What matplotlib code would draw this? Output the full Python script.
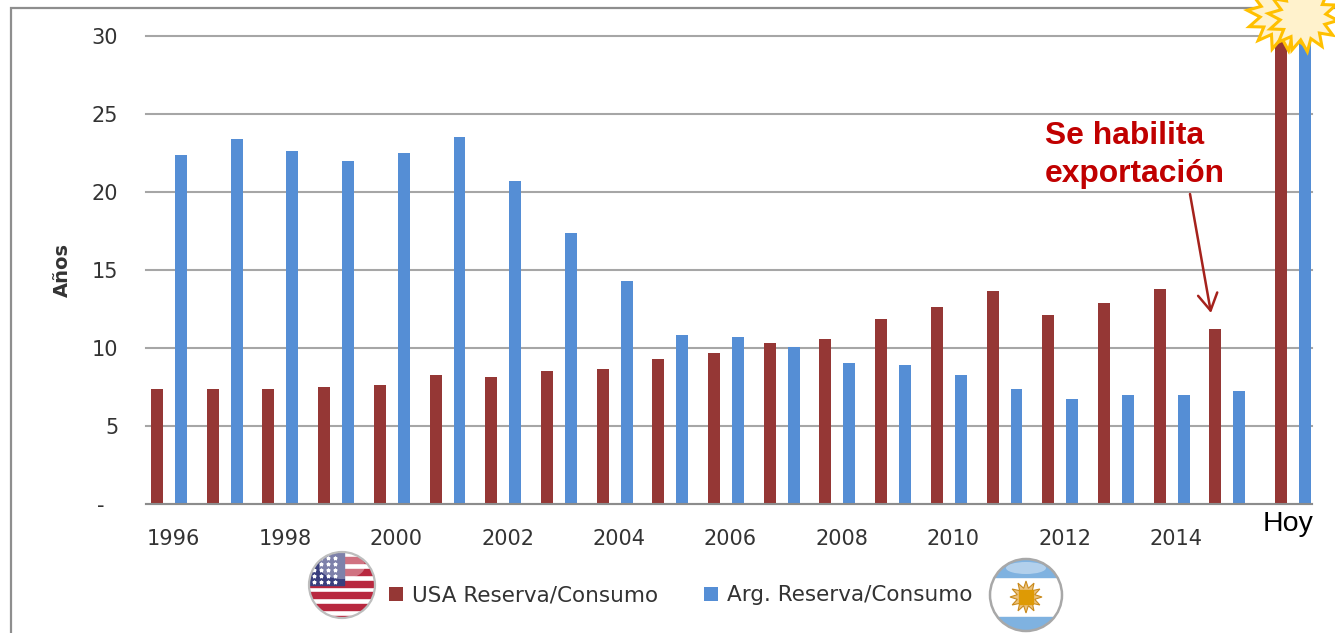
import matplotlib
matplotlib.use("Agg")
import matplotlib.pyplot as plt
import numpy as np
from matplotlib.patches import Circle, Ellipse, Polygon, Rectangle

years = [1996, 1997, 1998, 1999, 2000, 2001, 2002, 2003, 2004, 2005,
         2006, 2007, 2008, 2009, 2010, 2011, 2012, 2013, 2014, 2015]
usa = [7.4, 7.4, 7.4, 7.5, 7.6, 8.3, 8.15, 8.5, 8.65, 9.3,
       9.7, 10.3, 10.6, 11.85, 12.6, 13.65, 12.1, 12.9, 13.8, 11.2]
arg = [22.4, 23.4, 22.6, 22.0, 22.5, 23.5, 20.7, 17.4, 14.3, 10.85,
       10.7, 10.05, 9.05, 8.9, 8.3, 7.4, 6.75, 7.0, 7.0, 7.25]
usa_hoy = 30
arg_hoy = 30
y_ticks = [0, 5, 10, 15, 20, 25, 30]
y_labels = ["-  ", "5", "10", "15", "20", "25", "30"]

usa_color = "#953735"
arg_color = "#558ED5"
text_color = "#333333"
red = "#C00000"
W, H = 1335, 633

fig = plt.figure(figsize=(W / 100, H / 100), dpi=100, facecolor="white")
ax = fig.add_axes([146 / W, 1 - 504 / H, (1312 - 146) / W, (504 - 36) / H])

x = np.arange(len(years))
x_hoy = 20.18
bar_w = 0.215
off = 0.215
ax.bar(x - off, usa, bar_w, color=usa_color, label="USA Reserva/Consumo")
ax.bar(x + off, arg, bar_w, color=arg_color, label="Arg. Reserva/Consumo")
ax.bar(x_hoy - off, usa_hoy, bar_w, color=usa_color)
ax.bar(x_hoy + off, arg_hoy, bar_w, color=arg_color)

ax.set_xlim(-0.413, 20.52)
ax.set_ylim(0, 30)
ax.set_yticks(y_ticks)
ax.set_yticklabels(y_labels, fontsize=15, color=text_color)
ax.set_xticks(x[::2] + 0.08)
ax.set_xticklabels(years[::2], fontsize=15, color=text_color)
ax.tick_params(length=0)
ax.tick_params(axis="y", pad=20)
ax.tick_params(axis="x", pad=18)
ax.grid(axis="y", color="#A6A6A6", linewidth=1.5, clip_on=False)
ax.set_axisbelow(True)
for s in ["top", "right", "left"]:
    ax.spines[s].set_visible(False)
ax.spines["bottom"].set_color("#8C8C8C")
ax.spines["bottom"].set_linewidth(1.5)

ax.text(-1.92, 15, "Años", rotation=90, ha="center", va="center",
        fontsize=14, fontweight="bold", color=text_color)
ax.text(x_hoy - 0.09, -1.3, "Hoy", ha="center", va="center", fontsize=20.5,
        family="Liberation Sans", color="black")

ax.legend(loc="center left", bbox_to_anchor=(0.2086, -0.195), ncol=2, frameon=False,
          fontsize=15.5, labelcolor=text_color, handlelength=0.65, handleheight=0.65,
          handletextpad=0.42, columnspacing=2.1, borderpad=0, borderaxespad=0)

ax.text(15.73, 22.4, "Se habilita\nexportación", ha="left", va="center",
        fontsize=22.9, fontweight="bold", family="Liberation Sans", color=red,
        linespacing=1.35)
ax.annotate("", xy=(1211, H - 313), xycoords="figure pixels",
            xytext=(1190, H - 194), textcoords="figure pixels",
            arrowprops=dict(arrowstyle="->,head_length=1.2,head_width=0.7",
                            color="#A5221C", linewidth=1.8, shrinkA=0, shrinkB=0))

# overlay in pixel coords for frame, flags and stars
deco = fig.add_axes([0, 0, 1, 1], zorder=5)
deco.set_xlim(0, W)
deco.set_ylim(H, 0)
deco.axis("off")
deco.plot([11, 11, W], [H, 8, 8], color="#8E8E8E", linewidth=1.6, solid_joinstyle="miter")


def burst(cx, cy, r_out, r_in, n, zorder):
    a = np.linspace(0, 2 * np.pi, 2 * n, endpoint=False) + 0.1
    r = np.where(np.arange(2 * n) % 2 == 0, r_out, r_in)
    pts = np.column_stack([cx + r * np.cos(a), cy + r * np.sin(a)])
    deco.add_patch(Polygon(pts, closed=True, facecolor="#FFF2CC", edgecolor="#FFC000",
                           linewidth=2.2, zorder=zorder, clip_on=False))


burst(1284, 14, 37, 24, 14, 6)
burst(1303, 17, 35, 23, 14, 7)


def flag_base(cx, cy, r):
    disc = Circle((cx, cy), r, facecolor="white", edgecolor="none", zorder=6)
    deco.add_patch(disc)
    return disc


# USA flag
cx, cy, r = 342, 585, 33
disc = flag_base(cx, cy, r)
stripe_h = 5.85
for i in range(0, 14, 2):
    p = Rectangle((cx - r, 545.6 + i * stripe_h), 2 * r, stripe_h, color="#B8283F", zorder=6.1)
    deco.add_patch(p)
    p.set_clip_path(disc)
p = Rectangle((cx - r, cy - r), r + 2, r, color="#3A3F7E", zorder=6.2)
deco.add_patch(p)
p.set_clip_path(disc)
sx, sy = np.meshgrid(np.arange(cx - 28, cx, 7), np.arange(cy - 27, cy - 2, 6))
sc = deco.scatter(sx.ravel(), sy.ravel(), s=5, marker="*", color="white", zorder=6.3)
sc.set_clip_path(disc)
gloss = Ellipse((cx, cy - 19), 46, 26, color="white", alpha=0.35, zorder=6.4, linewidth=0)
deco.add_patch(gloss)
deco.add_patch(Circle((cx, cy), r, fill=False, edgecolor="#BDBDBD", linewidth=1.6, zorder=6.5))

# Argentina flag
cx, cy, r = 1026, 595, 36
disc = flag_base(cx, cy, r)
for top, h in [(cy - r, r - 18), (cy + 22, r - 22)]:
    p = Rectangle((cx - r, top), 2 * r, h, color="#7FB2E0", zorder=6.1)
    deco.add_patch(p)
    p.set_clip_path(disc)
deco.add_patch(Ellipse((cx, cy - 27), 40, 12, color="white", alpha=0.4, zorder=6.4, linewidth=0))
a = np.linspace(0, 2 * np.pi, 24, endpoint=False)
rr = np.where(np.arange(24) % 2 == 0, 16, 9)
deco.add_patch(Polygon(np.column_stack([cx + rr * np.cos(a), cy + 2 + rr * np.sin(a)]),
                       closed=True, facecolor="#EBC27E", edgecolor="#C98A1B", linewidth=0.8, zorder=6.2))
deco.add_patch(Rectangle((cx - 7, cy - 5), 14, 14, color="#DE9A05", zorder=6.3))
deco.add_patch(Circle((cx, cy), r, fill=False, edgecolor="#A8A8A8", linewidth=1.8, zorder=6.5))

plt.savefig("out.png", dpi=100)
